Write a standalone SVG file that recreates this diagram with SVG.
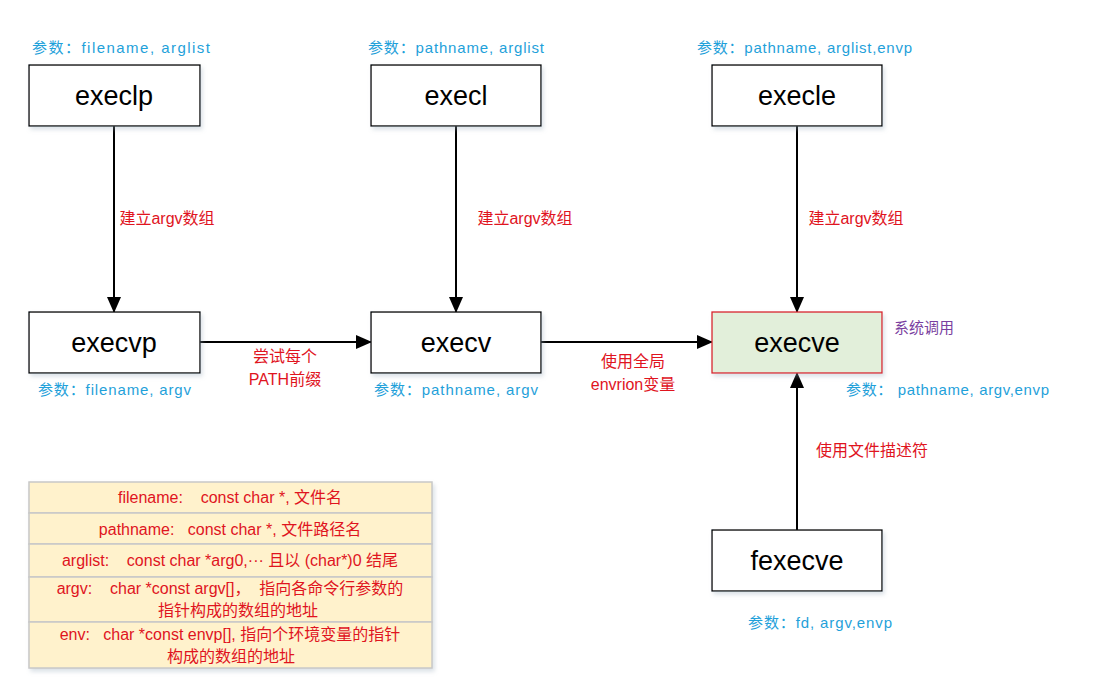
<svg xmlns="http://www.w3.org/2000/svg" width="1109" height="690" viewBox="0 0 1109 690">
<style>
text{white-space:pre}
.box{fill:#fff;stroke:#000;stroke-width:1.3}
.nt{font-family:"Liberation Sans","Noto Sans CJK SC",sans-serif;font-size:27px;fill:#000;text-anchor:middle}
.param{font-family:"Liberation Sans","Noto Sans CJK SC",sans-serif;font-size:15px;fill:#1fa1da}
.lbl{font-family:"Liberation Sans","Noto Sans CJK SC",sans-serif;font-size:16px;fill:#e0141e;text-anchor:middle}
.tb{fill:#fff2cc;stroke:#c8c8c8;stroke-width:1.5}
.tt{font-family:"Liberation Sans","Noto Sans CJK SC",sans-serif;font-size:16px;fill:#e0141e;text-anchor:middle}
.conn{stroke:#000;stroke-width:2;fill:none;marker-end:url(#ah)}
</style>
<defs>
<marker id="ah" markerWidth="16" markerHeight="14" refX="15" refY="7" orient="auto" markerUnits="userSpaceOnUse" viewBox="0 0 16 14"><path d="M0,0 L16,7 L0,14 z" fill="#000"/></marker>
<filter id="sh" x="-10%" y="-10%" width="130%" height="140%"><feDropShadow dx="2" dy="3" stdDeviation="2" flood-color="#9ab" flood-opacity="0.35"/></filter>
</defs>
<rect width="1109" height="690" fill="#fff"/>
<g id="connectors">
<line class="conn" x1="114" y1="126" x2="114" y2="312"/>
<line class="conn" x1="456" y1="126" x2="456" y2="312"/>
<line class="conn" x1="797" y1="126" x2="797" y2="312"/>
<line class="conn" x1="200" y1="342" x2="371" y2="342"/>
<line class="conn" x1="541" y1="342" x2="712" y2="342"/>
<line class="conn" x1="797" y1="530" x2="797" y2="373"/>
<text class="lbl" x="167" y="224">建立argv数组</text>
<text class="lbl" x="525" y="224">建立argv数组</text>
<text class="lbl" x="856" y="224">建立argv数组</text>
<text class="lbl" x="285" y="362">尝试每个</text>
<text class="lbl" x="285" y="385">PATH前缀</text>
<text class="lbl" x="633" y="367">使用全局</text>
<text class="lbl" x="633" y="390">envrion变量</text>
<text class="lbl" x="872" y="456">使用文件描述符</text>
</g>
<g id="execlp">
<text class="param" x="32" y="53" textLength="178" lengthAdjust="spacing">参数：filename, arglist</text>
<rect class="box" x="29" y="65" width="171" height="61" filter="url(#sh)"/>
<text class="nt" x="114" y="105">execlp</text>
</g>
<g id="execl">
<text class="param" x="368" y="53" textLength="176" lengthAdjust="spacing">参数：pathname, arglist</text>
<rect class="box" x="371" y="65" width="170" height="61" filter="url(#sh)"/>
<text class="nt" x="456" y="105">execl</text>
</g>
<g id="execle">
<text class="param" x="697" y="53" textLength="215" lengthAdjust="spacing">参数：pathname, arglist,envp</text>
<rect class="box" x="712" y="65" width="170" height="61" filter="url(#sh)"/>
<text class="nt" x="797" y="105">execle</text>
</g>
<g id="execvp">
<rect class="box" x="29" y="312" width="171" height="61" filter="url(#sh)"/>
<text class="nt" x="114" y="352">execvp</text>
<text class="param" x="38" y="395" textLength="153" lengthAdjust="spacing">参数：filename, argv</text>
</g>
<g id="execv">
<rect class="box" x="371" y="312" width="170" height="61" filter="url(#sh)"/>
<text class="nt" x="456" y="352">execv</text>
<text class="param" x="374" y="395" textLength="164" lengthAdjust="spacing">参数：pathname, argv</text>
</g>
<g id="execve">
<rect x="712" y="312" width="170" height="61" fill="#e2efda" stroke="#d9232d" stroke-width="1.3" filter="url(#sh)"/>
<text class="nt" x="797" y="352">execve</text>
<text x="894" y="333" font-family="Liberation Sans,Noto Sans CJK SC,sans-serif" font-size="15" fill="#7a3fa0">系统调用</text>
<text class="param" x="846" y="395" textLength="203" lengthAdjust="spacing">参数： pathname, argv,envp</text>
</g>
<g id="fexecve">
<rect class="box" x="712" y="530" width="170" height="61" filter="url(#sh)"/>
<text class="nt" x="797" y="570">fexecve</text>
<text class="param" x="748" y="628" textLength="144" lengthAdjust="spacing">参数：fd, argv,envp</text>
</g>
<g id="legend" filter="url(#sh)">
<rect class="tb" x="29" y="482" width="403" height="31"/>
<rect class="tb" x="29" y="513" width="403" height="31"/>
<rect class="tb" x="29" y="544" width="403" height="33"/>
<rect class="tb" x="29" y="577" width="403" height="45"/>
<rect class="tb" x="29" y="622" width="403" height="46"/>
</g>
<g id="legend-text">
<text class="tt" x="230" y="503">filename:    const char *, 文件名</text>
<text class="tt" x="230" y="535">pathname:   const char *, 文件路径名</text>
<text class="tt" x="230" y="566">arglist:    const char *arg0,··· 且以 (char*)0 结尾</text>
<text class="tt" x="230" y="594">argv:    char *const argv[]，  指向各命令行参数的</text>
<text class="tt" x="238" y="616">指针构成的数组的地址</text>
<text class="tt" x="230" y="640">env:   char *const envp[], 指向个环境变量的指针</text>
<text class="tt" x="231" y="662">构成的数组的地址</text>
</g>
</svg>
